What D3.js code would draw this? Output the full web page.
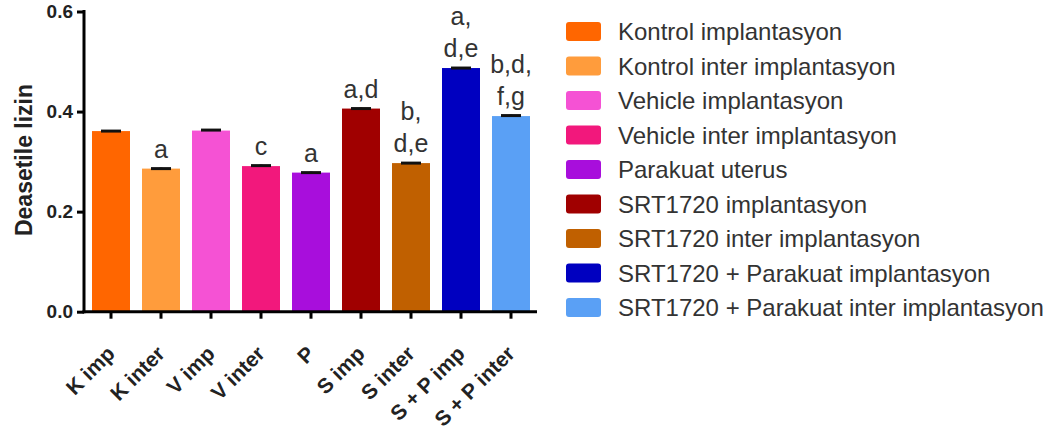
<!DOCTYPE html>
<html><head><meta charset="utf-8">
<script src="https://cdn.jsdelivr.net/npm/d3@7"></script>
<style>
html,body{margin:0;padding:0;background:#fff;}
text{font-family:"Liberation Sans",Arial,sans-serif;}
</style></head>
<body><svg id="c" width="1061" height="440"></svg>
<script>
const categories = ["K imp","K inter","V imp","V inter","P","S imp","S inter","S + P imp","S + P inter"];
const legendLabels = ["Kontrol implantasyon","Kontrol inter implantasyon","Vehicle implantasyon","Vehicle inter implantasyon","Parakuat uterus","SRT1720 implantasyon","SRT1720 inter implantasyon","SRT1720 + Parakuat implantasyon","SRT1720 + Parakuat inter implantasyon"];
const values = [0.361, 0.286, 0.362, 0.291, 0.278, 0.406, 0.297, 0.487, 0.391];
const errors = [0.002, 0.002, 0.003, 0.003, 0.002, 0.002, 0.002, 0.002, 0.003];
const annotations = [[], ["a"], [], ["c"], ["a"], ["a,d"], ["b,","d,e"], ["a,","d,e"], ["b,d,","f,g"]];
const colors = ["#FF6600","#FF9C3C","#F552D4","#F2187C","#A80EDC","#A00000","#C06000","#0000C0","#5AA0F5"];
const yTicks = [0.0, 0.2, 0.4, 0.6];

const svg = d3.select("#c");
const x = d3.scaleBand().domain(categories).range([92, 530]).paddingInner(0.24).paddingOuter(0);
const y = d3.scaleLinear().domain([0, 0.6]).range([311.7, 11.5]);

// bars
svg.append("g").selectAll("rect").data(values).join("rect")
  .attr("x", (d,i) => x(categories[i]))
  .attr("width", x.bandwidth())
  .attr("y", d => y(d))
  .attr("height", d => y(0) - y(d))
  .attr("fill", (d,i) => colors[i]);

// error caps
const eg = svg.append("g").attr("stroke","#111").attr("stroke-width",3);
values.forEach((v,i) => {
  const cx = x(categories[i]) + x.bandwidth()/2;
  eg.append("line").attr("x1",cx).attr("x2",cx).attr("y1",y(v)).attr("y2",y(v+errors[i]));
  eg.append("line").attr("x1",cx-10).attr("x2",cx+10).attr("y1",y(v+errors[i])+1).attr("y2",y(v+errors[i])+1);
});

// axes
const yAxis = svg.append("g").attr("transform","translate(84,0)")
  .call(d3.axisLeft(y).tickValues(yTicks).tickFormat(d3.format(".1f")).tickSize(7).tickPadding(4));
const xAxis = svg.append("g").attr("transform",`translate(0,${y(0)})`)
  .call(d3.axisBottom(x).tickSize(7).tickFormat(""));
[yAxis, xAxis].forEach(a => {
  a.select(".domain").remove();
  a.selectAll("line").attr("stroke","#000").attr("stroke-width",3);
});
yAxis.selectAll("text").attr("font-size",19).attr("font-weight","bold").attr("fill","#222");
svg.append("line").attr("x1",84).attr("x2",84).attr("y1",y(0.6)-1.5).attr("y2",y(0)+1.5).attr("stroke","#000").attr("stroke-width",3);
svg.append("line").attr("x1",82.5).attr("x2",537).attr("y1",y(0)).attr("y2",y(0)).attr("stroke","#000").attr("stroke-width",3);

// x labels
svg.append("g").selectAll("text").data(categories).join("text")
  .attr("transform", d => `translate(${x(d)+x.bandwidth()/2+5},${355}) rotate(-45)`)
  .attr("text-anchor","end")
  .attr("font-size",21).attr("font-weight","bold").attr("fill","#222")
  .text(d => d);

// y label
svg.append("text").attr("transform","translate(32,160) rotate(-90)")
  .attr("text-anchor","middle").attr("font-size",23).attr("font-weight","bold").attr("fill","#222")
  .text("Deasetile lizin");

// annotations
const ag = svg.append("g");
annotations.forEach((lines,i) => {
  const cx = x(categories[i]) + x.bandwidth()/2;
  const top = y(values[i] + errors[i]);
  lines.forEach((t,j) => {
    ag.append("text").attr("x",cx).attr("y", top - 10 - (lines.length-1-j)*32)
      .attr("text-anchor","middle").attr("font-size",25).attr("fill","#333").text(t);
  });
});

// legend
const lg = svg.append("g").attr("transform","translate(566,22)");
legendLabels.forEach((t,i) => {
  const r = lg.append("g").attr("transform",`translate(0,${i*34.5})`);
  r.append("rect").attr("width",35).attr("height",19).attr("rx",3).attr("fill",colors[i]);
  r.append("text").attr("x",52).attr("y",18).attr("font-size",24).attr("fill","#333").text(t);
});
</script></body></html>
